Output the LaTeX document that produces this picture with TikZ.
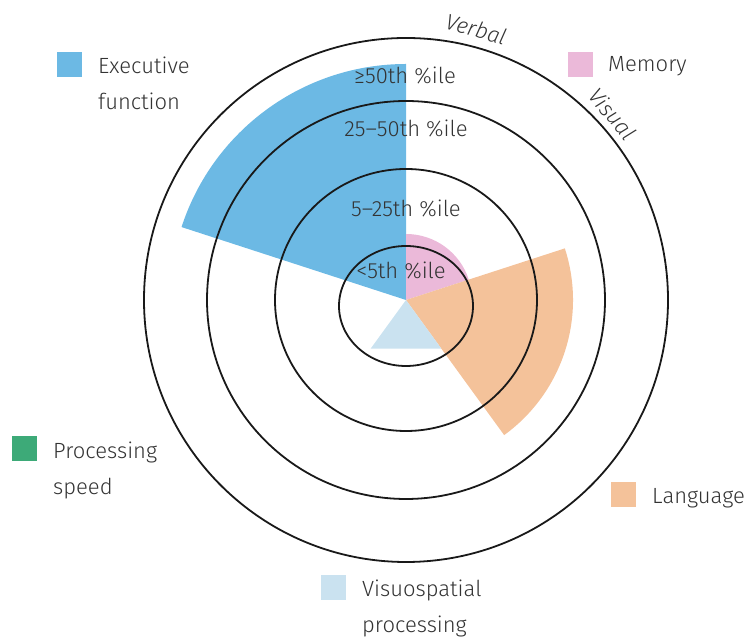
\documentclass[tikz,border=0pt]{standalone}
\usepackage{fontspec}
\setmainfont{Fira Sans Light}[ItalicFont={Fira Sans Light Italic}]
\definecolor{execc}{HTML}{6CB9E4}
\definecolor{memc}{HTML}{EBB9D9}
\definecolor{langc}{HTML}{F4C29A}
\definecolor{visc}{HTML}{CAE2F0}
\definecolor{procc}{HTML}{3DAA78}
\definecolor{txt}{HTML}{333333}
\tikzset{
  ring/.style={draw=black!90, line width=1.8pt},
  sq/.style={minimum size=25pt, inner sep=0pt, draw=none},
  leg/.style={anchor=north west, inner sep=0pt, align=left, text=txt, font=\fontsize{22}{36}\selectfont},
  pct/.style={inner sep=0pt, text=txt, font=\fontsize{22}{26}\selectfont},
  arclabel/.style={inner sep=0pt, text=txt, font=\fontsize{22}{26}\selectfont\itshape}
}
\begin{document}
\begin{tikzpicture}[x=1pt,y=1pt]
\useasboundingbox (0,0) rectangle (750,639);
\coordinate (C) at (406,339);
% sectors
\fill[execc] (C) -- +(90:236) arc[start angle=90,end angle=162,radius=236] -- cycle;
\fill[memc] (C) -- +(18:66) arc[start angle=18,end angle=90,radius=66] -- cycle;
\fill[langc] (C) -- +(-54:167) arc[start angle=-54,end angle=18,radius=167] -- cycle;
\fill[visc] (C) -- +(-126:60) -- +(-54:60) -- cycle;
% rings
\draw[ring] (C) circle[radius=262];
\draw[ring] (C) circle[radius=199];
\draw[ring] (C) circle[radius=131];
\draw[ring] (406,333) ellipse[x radius=67,y radius=60];
% percentile labels
\node[pct] (p50) at (405,564) {≥50th \%ile};
\node[pct] (p25) at (406,511) {25–50th \%ile};
\node[pct] (p5) at (406,431) {5–25th \%ile};
\node[pct] (p0) at (401,369) {<5th \%ile};
% arc labels
\node[arclabel, rotate=-16] (verbal) at ([shift={(75.5:280)}]C) {Verbal};
\node[arclabel, rotate=-50] (visual) at ([shift={(42:278)}]C) {Visual};
% legend
\node[sq, fill=execc] (sqexec) at (69.5,574.5) {};
\node[leg] (lexec) at (98,582) {Executive\\function};
\node[sq, fill=memc] (sqmem) at (580.5,574.5) {};
\node[leg] (lmem) at (608,583) {Memory};
\node[sq, fill=procc] (sqproc) at (24,190.5) {};
\node[leg] (lproc) at (53,197) {Processing\\speed};
\node[sq, fill=langc] (sqlang) at (623,144) {};
\node[leg] (llang) at (652,151) {Language};
\node[sq, fill=visc] (sqvis) at (333.5,51.5) {};
\node[leg] (lvis) at (362,59) {Visuospatial\\processing};
\end{tikzpicture}
\end{document}
